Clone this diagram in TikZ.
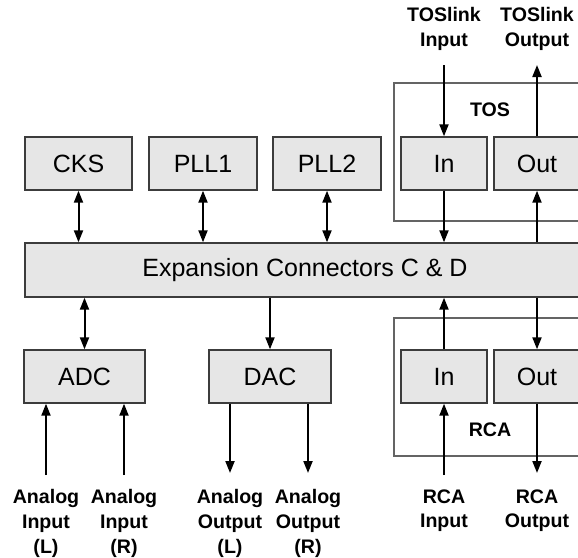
\documentclass[tikz,border=0pt]{standalone}
\usepackage{fontspec}
\setmainfont{Liberation Sans}
\usetikzlibrary{arrows.meta}

\definecolor{boxfill}{RGB}{230,230,230}
\definecolor{boxline}{RGB}{60,60,60}
\definecolor{frameline}{RGB}{100,100,100}

\tikzset{
    blk/.style={draw=boxline, fill=boxfill, line width=0.7pt, inner sep=0pt,
        minimum height=26.5pt, font=\fontsize{12.5}{14}\selectfont},
    sig/.style={line width=1pt, -{Triangle[length=6pt,width=4.5pt]}},
    duplex/.style={line width=1pt, {Triangle[length=6pt,width=4.5pt]}-{Triangle[length=6pt,width=4.5pt]}},
    lbl/.style={font=\fontsize{9.8}{12.4}\selectfont\bfseries, align=center, inner sep=0pt, anchor=north},
    grp/.style={draw=frameline, line width=0.7pt},
}

\begin{document}
\begin{tikzpicture}[x=0.5pt, y=-0.5pt]
    \clip (0,0) rectangle (578,557);

    % 外框：TOS / RCA
    \draw[grp] (394,83) rectangle (600,221);
    \draw[grp] (394,318) rectangle (600,456);
    \node[font=\fontsize{9.8}{11}\selectfont\bfseries] (tos) at (490,110) {TOS};
    \node[font=\fontsize{9.8}{11}\selectfont\bfseries] (rca) at (490,430) {RCA};

    % 上排模块
    \node[blk, minimum width=53.5pt] (cks) at (78.5,163.5) {CKS};
    \node[blk, minimum width=54pt] (pll1) at (203,163.5) {PLL1};
    \node[blk, minimum width=54pt] (pll2) at (327,163.5) {PLL2};
    \node[blk, minimum width=43pt] (tosin) at (444,163.5) {In};
    \node[blk, minimum width=43pt] (tosout) at (537,163.5) {Out};

    % 扩展连接器
    \node[blk, minimum width=280pt, minimum height=27pt] (exp) at (305,270) {Expansion Connectors C \& D};

    % 下排模块
    \node[blk, minimum width=60.5pt] (adc) at (84.5,376.5) {ADC};
    \node[blk, minimum width=61pt] (dac) at (270,376.5) {DAC};
    \node[blk, minimum width=43pt] (rcain) at (444,376.5) {In};
    \node[blk, minimum width=43pt] (rcaout) at (537,376.5) {Out};

    % 外部端点
    \coordinate (tosinsrc) at (444,65);
    \coordinate (tosoutdst) at (537,65);
    \coordinate (rcainsrc) at (444,475);
    \coordinate (rcaoutdst) at (537,473);
    \coordinate (ainl) at (46,475);
    \coordinate (ainr) at (124,475);
    \coordinate (aoutl) at (230,473);
    \coordinate (aoutr) at (308,473);

    % 总线连接
    \draw[duplex] (cks.south) -- (cks.south |- exp.north);
    \draw[duplex] (pll1.south) -- (pll1.south |- exp.north);
    \draw[duplex] (pll2.south) -- (pll2.south |- exp.north);
    \draw[duplex] (adc.north) -- (adc.north |- exp.south);
    \draw[sig] (dac.north |- exp.south) -- (dac.north);

    % TOS
    \draw[sig] (tosinsrc) -- (tosin.north);
    \draw[sig] (tosin.south) -- (tosin.south |- exp.north);
    \draw[sig] (tosout.north) -- (tosoutdst);
    \draw[sig] (tosout.south |- exp.north) -- (tosout.south);

    % RCA
    \draw[sig] (rcain.north) -- (rcain.north |- exp.south);
    \draw[sig] (rcainsrc) -- (rcain.south);
    \draw[sig] (rcaout.north |- exp.south) -- (rcaout.north);
    \draw[sig] (rcaout.south) -- (rcaoutdst);

    % 模拟输入输出
    \draw[sig] (ainl) -- (ainl |- adc.south);
    \draw[sig] (ainr) -- (ainr |- adc.south);
    \draw[sig] (aoutl |- dac.south) -- (aoutl);
    \draw[sig] (aoutr |- dac.south) -- (aoutr);

    % 标签
    \node[lbl] (tosinlbl) at (444,7) {TOSlink\\Input};
    \node[lbl] (tosoutlbl) at (537,7) {TOSlink\\Output};
    \node[lbl] (ainllbl) at (46,489) {Analog\\Input\\(L)};
    \node[lbl] (ainrlbl) at (124,489) {Analog\\Input\\(R)};
    \node[lbl] (aoutllbl) at (230,489) {Analog\\Output\\(L)};
    \node[lbl] (aoutrlbl) at (308,489) {Analog\\Output\\(R)};
    \node[lbl] (rcainlbl) at (444,489) {RCA\\Input};
    \node[lbl] (rcaoutlbl) at (537,489) {RCA\\Output};
\end{tikzpicture}
\end{document}
